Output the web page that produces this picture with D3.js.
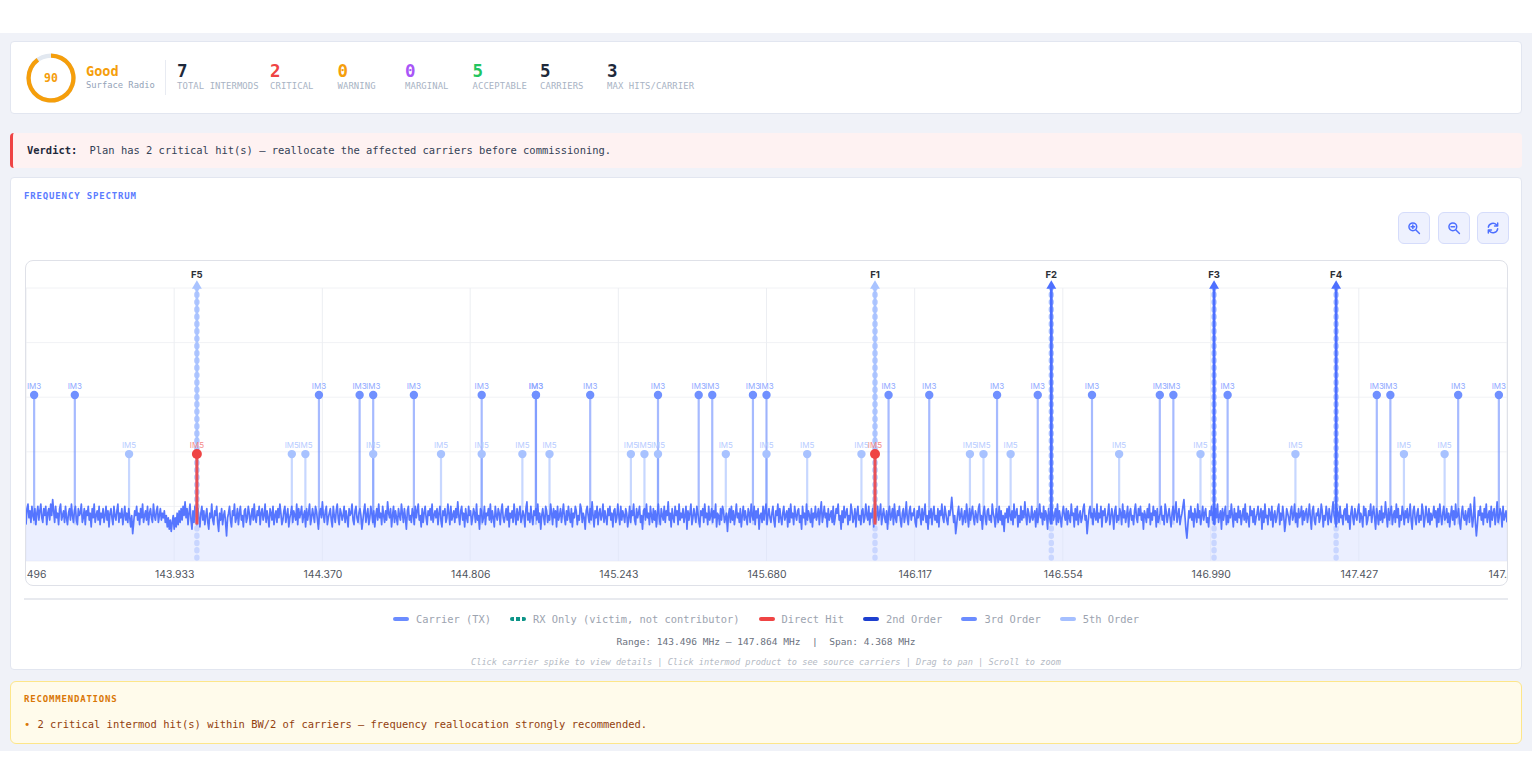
<!DOCTYPE html>
<html>
<head>
<meta charset="utf-8">
<title>Intermodulation Spectrum</title>
<script src="https://cdn.jsdelivr.net/npm/d3@7/dist/d3.min.js"></script>
<style>
  html, body { margin: 0; padding: 0; background: #fff; overflow: hidden; }
  body { width: 1532px; height: 784px; position: relative; font-family: "DejaVu Sans Mono", monospace; }
  .abs { position: absolute; box-sizing: border-box; }
  .bg { left: 0; top: 33px; width: 1532px; height: 718px; background: #f0f2f8; }
  .panel { left: 10px; width: 1512px; background: #fff; border: 1px solid #e2e6f0; border-radius: 4px; }
  .txt { position: absolute; white-space: nowrap; line-height: 1; }
  .btn { top: 212px; width: 32px; height: 32px; background: #eef1fe; border: 1px solid #d5dcfb; border-radius: 6px; }
  .btn svg { position: absolute; left: 8px; top: 8px; fill: none; stroke: #4d6fff; stroke-width: 1.9; stroke-linecap: round; stroke-linejoin: round; }
  #frame { left: 25px; top: 260px; width: 1483px; height: 326px; border: 1.5px solid #dfe1e8; border-radius: 8px; overflow: hidden; background: #fff; }
  #frame svg { position: absolute; left: 0; top: 0; font-family: Inter, sans-serif; }
  #legend { position: absolute; left: 0; width: 1532px; top: 613px; display: flex; justify-content: center; gap: 19px; font-size: 10.4px; color: #9ca3af; line-height: 12px; }
  #legend span.item { display: flex; align-items: center; white-space: nowrap; }
  #legend i { display: block; width: 16px; height: 4px; border-radius: 2px; margin-right: 7px; }
</style>
</head>
<body>
<div class="abs bg"></div>
<div class="abs panel" style="top:41px;height:73px"></div>
<div class="abs" style="left:10px;top:133px;width:1512px;height:35px;background:#fef2f2;border-left:3px solid #ef4444;border-radius:4px"></div>
<div class="abs panel" style="top:177px;height:493px"></div>
<div class="abs" style="left:10px;top:681px;width:1512px;height:63px;background:#fffbeb;border:1px solid #fde68a;border-radius:6px"></div>
<div class="abs" style="left:24px;top:598px;width:1484px;height:2px;background:#e8eaef"></div>
<div class="abs" style="left:165px;top:60px;width:1px;height:35px;background:#e8ebf2"></div>
<div class="abs" id="frame"></div>
<div id="legend"></div>
<script>
// Score summary
const scoreValue = 90;
const scoreGrade = "Good";
const serviceName = "Surface Radio";
const statValues = [7, 2, 0, 0, 5, 5, 3];
const statLabels = ["TOTAL INTERMODS", "CRITICAL", "WARNING", "MARGINAL", "ACCEPTABLE", "CARRIERS", "MAX HITS/CARRIER"];
const statColors = ["#1e293b", "#ef4444", "#f59e0b", "#a855f7", "#22c55e", "#1e293b", "#1e293b"];
const statLefts = [177, 270, 337.5, 405, 472.5, 540, 607];

// Spectrum: carriers in MHz
const carrierNames = ["F5", "F1", "F2", "F3", "F4"];
const carrierFreqs = [144.0, 146.0, 146.52, 147.0, 147.36];
const carrierColors = ["#a9c3ff", "#a9c3ff", "#4d6fff", "#4d6fff", "#4d6fff"];
const carrierLevel = 0;

// Intermod products in MHz
const im3Freqs = [143.52, 143.64, 144.36, 144.48, 144.52, 144.64, 144.84, 145.0, 145.0, 145.16, 145.36, 145.48, 145.52, 145.64, 145.68, 146.04, 146.16, 146.36, 146.48, 146.64, 146.84, 146.88, 147.04, 147.48, 147.52, 147.72, 147.84];
const im5Freqs = [143.8, 144.28, 144.32, 144.52, 144.72, 144.84, 144.96, 145.04, 145.28, 145.32, 145.36, 145.56, 145.68, 145.8, 145.96, 146.28, 146.32, 146.4, 146.72, 146.96, 147.24, 147.56, 147.68];
const hitFreqs = [144.0, 146.0];
const im3Level = -47;
const im5Level = -73;
const stemFloor = -104;

// Axis
const freqMin = 143.496;
const freqMax = 147.864;
const tickFreqs = [143.496, 143.933, 144.370, 144.806, 145.243, 145.680, 146.117, 146.554, 146.990, 147.427, 147.864];
const levelMin = -120;
const levelMax = 0;
const levelTicks = [-120, -96, -72, -48, -24, 0];

// Measured noise floor in dB, left to right across the span
const noiseFloor = [
-104,-97,-95,-101,-98,-103,-96,-100,-102,-97,-104,-99,-96,-102,-98,-95,-101,-103,-97,-100,-96,-104,-99,-97,-102,-95,-100,-93,-98,-103,
-96,-101,-99,-104,-97,-95,-102,-100,-98,-103,-96,-101,-104,-99,-97,-102,-95,-100,-103,-98,-96,-102,-104,-97,-100,-99,-95,-103,-101,-97,
-104,-98,-100,-96,-102,-99,-105,-97,-101,-95,-103,-100,-98,-102,-96,-104,-99,-101,-97,-103,-100,-96,-102,-98,-105,-99,-97,-101,-104,-96,
-100,-102,-98,-95,-103,-99,-101,-97,-104,-100,-96,-102,-99,-103,-97,-101,-105,-100,-108,-103,-98,-100,-96,-102,-99,-104,-97,-101,-95,-103,
-100,-98,-102,-96,-104,-99,-97,-101,-103,-95,-100,-102,-98,-96,-103,-100,-97,-102,-99,-101,-98,-103,-100,-105,-101,-106,-102,-107,-103,-100,
-106,-101,-105,-99,-104,-98,-103,-97,-102,-96,-100,-94,-101,-97,-104,-99,-95,-102,-106,-98,-103,-96,-100,-104,-97,-101,-105,-99,-96,-102,
-98,-104,-100,-97,-103,-106,-99,-101,-95,-102,-104,-98,-100,-96,-103,-107,-99,-102,-97,-104,-100,-98,-103,-109,-101,-99,-96,-102,-105,-98,
-100,-95,-103,-101,-97,-104,-99,-96,-102,-100,-105,-98,-97,-103,-101,-96,-99,-104,-100,-97,-102,-95,-101,-103,-98,-100,-96,-104,-99,-97,
-102,-100,-95,-103,-98,-101,-105,-97,-99,-102,-96,-104,-100,-98,-103,-97,-101,-95,-99,-104,-102,-98,-96,-103,-100,-97,-105,-101,-99,-96,
-103,-98,-100,-102,-95,-104,-97,-101,-99,-96,-103,-100,-98,-105,-97,-102,-99,-95,-104,-101,-97,-100,-103,-96,-98,-102,-106,-99,-97,-101,
-94,-100,-103,-98,-96,-104,-101,-99,-97,-102,-105,-96,-100,-103,-98,-95,-101,-104,-97,-99,-102,-100,-96,-103,-98,-101,-105,-97,-100,-99,
-95,-102,-104,-98,-96,-101,-103,-99,-97,-100,-106,-102,-98,-95,-103,-100,-97,-104,-101,-96,-99,-103,-98,-105,-100,-97,-102,-95,-101,-99,
-104,-96,-100,-103,-98,-102,-94,-99,-101,-97,-105,-100,-96,-103,-98,-101,-104,-97,-100,-102,-95,-99,-103,-97,-101,-106,-98,-96,-102,-100,
-103,-97,-99,-104,-96,-101,-98,-95,-102,-100,-105,-97,-103,-99,-96,-101,-104,-98,-100,-97,-102,-95,-103,-100,-98,-101,-97,-104,-99,-96,
-102,-105,-98,-100,-97,-103,-101,-95,-99,-104,-96,-102,-100,-98,-103,-97,-101,-94,-100,-104,-98,-96,-102,-99,-105,-97,-101,-103,-96,-100,
-98,-104,-101,-97,-99,-103,-95,-102,-100,-106,-97,-98,-103,-101,-96,-104,-99,-100,-97,-102,-95,-103,-98,-101,-105,-96,-100,-102,-97,-99,
-104,-98,-95,-101,-103,-100,-97,-102,-96,-105,-99,-101,-98,-103,-95,-100,-104,-97,-102,-99,-96,-103,-101,-98,-100,-105,-97,-94,-102,-99,
-103,-96,-101,-104,-98,-100,-97,-102,-95,-103,-99,-106,-100,-97,-101,-104,-96,-98,-103,-100,-102,-95,-99,-104,-97,-101,-98,-105,-96,-102,
-100,-97,-103,-99,-95,-101,-104,-98,-102,-96,-100,-103,-97,-105,-99,-101,-96,-98,-104,-100,-102,-95,-97,-103,-99,-101,-106,-98,-96,-100,
-103,-97,-102,-94,-100,-105,-98,-101,-96,-104,-99,-97,-102,-100,-95,-103,-98,-101,-104,-97,-100,-96,-102,-99,-105,-98,-97,-103,-101,-95,
-100,-104,-96,-102,-98,-100,-103,-97,-99,-105,-101,-96,-103,-98,-100,-95,-102,-104,-97,-101,-99,-96,-103,-100,-106,-98,-97,-102,-95,-101,
-99,-104,-96,-100,-103,-97,-102,-98,-105,-99,-95,-101,-104,-97,-100,-102,-96,-103,-98,-100,-94,-102,-99,-105,-97,-101,-103,-96,-100,-98,
-104,-95,-102,-99,-101,-97,-103,-100,-96,-106,-98,-102,-99,-95,-104,-101,-97,-100,-103,-96,-99,-102,-105,-98,-100,-97,-103,-95,-101,-99,
-104,-96,-102,-100,-97,-103,-98,-101,-95,-105,-99,-100,-104,-97,-102,-96,-98,-103,-101,-99,-107,-100,-97,-103,-96,-102,-98,-104,-100,-95,
-101,-99,-103,-97,-105,-100,-96,-102,-98,-101,-104,-97,-99,-103,-95,-100,-102,-96,-104,-98,-101,-97,-106,-100,-99,-103,-96,-102,-98,-95,
-104,-100,-97,-101,-103,-99,-96,-102,-105,-98,-100,-95,-103,-97,-101,-104,-99,-96,-102,-100,-98,-105,-97,-103,-95,-101,-99,-104,-96,-100,
-102,-98,-97,-103,-100,-106,-96,-101,-99,-104,-95,-102,-98,-100,-103,-97,-105,-99,-101,-96,-102,-100,-97,-104,-98,-94,-103,-100,-96,-101,
-99,-105,-97,-102,-100,-98,-103,-96,-104,-101,-97,-99,-95,-102,-100,-106,-98,-103,-96,-101,-99,-97,-104,-100,-102,-95,-98,-103,-101,-97,
-105,-99,-96,-102,-100,-104,-98,-97,-103,-101,-95,-100,-102,-96,-104,-99,-101,-97,-105,-98,-103,-100,-96,-102,-99,-95,-104,-100,-97,-101,
-103,-98,-106,-99,-96,-102,-100,-97,-104,-95,-101,-103,-98,-100,-96,-102,-105,-99,-97,-103,-100,-94,-101,-104,-98,-96,-102,-99,-100,-97,
-103,-105,-98,-101,-96,-100,-104,-97,-102,-99,-95,-103,-100,-106,-98,-101,-97,-104,-99,-96,-102,-100,-103,-97,-105,-98,-100,-95,-101,-103,
-96,-99,-102,-104,-98,-100,-97,-92,-98,-103,-100,-108,-104,-99,-96,-102,-100,-97,-104,-101,-98,-103,-95,-100,-105,-97,-102,-99,-96,-101,
-104,-98,-100,-103,-97,-95,-102,-100,-106,-99,-96,-101,-104,-98,-97,-102,-100,-103,-95,-99,-101,-105,-97,-100,-103,-96,-102,-98,-104,-100,
-107,-99,-101,-97,-103,-96,-100,-102,-98,-104,-95,-101,-99,-97,-105,-100,-103,-96,-102,-98,-101,-94,-100,-104,-97,-99,-103,-101,-96,-102,
-100,-98,-105,-97,-103,-100,-95,-101,-99,-104,-96,-102,-98,-100,-106,-97,-101,-103,-96,-99,-102,-100,-97,-104,-95,-103,-98,-101,-105,-99,
-96,-100,-102,-97,-104,-98,-101,-103,-95,-100,-99,-105,-97,-102,-96,-104,-100,-98,-103,-101,-97,-95,-102,-100,-108,-103,-98,-96,-101,-99,
-104,-97,-100,-102,-95,-103,-99,-101,-96,-105,-98,-100,-97,-103,-102,-99,-95,-104,-101,-97,-100,-106,-98,-96,-103,-100,-102,-97,-99,-104,
-95,-101,-98,-103,-100,-96,-105,-99,-97,-102,-100,-104,-98,-95,-101,-103,-97,-100,-96,-102,-99,-106,-98,-100,-103,-97,-101,-95,-104,-99,
-102,-96,-100,-98,-105,-97,-103,-101,-99,-96,-102,-100,-104,-95,-98,-103,-100,-97,-101,-105,-99,-96,-102,-98,-94,-103,-100,-97,-104,-101,
-99,-96,-93,-100,-106,-110,-104,-98,-101,-96,-102,-99,-105,-97,-100,-103,-95,-101,-98,-104,-100,-96,-102,-99,-97,-103,-101,-105,-98,-100,
-96,-102,-99,-104,-97,-101,-95,-103,-100,-98,-106,-97,-102,-99,-96,-104,-100,-103,-98,-101,-95,-100,-105,-97,-102,-99,-103,-96,-101,-98,
-104,-100,-97,-102,-95,-103,-99,-101,-105,-96,-100,-98,-103,-97,-104,-101,-99,-96,-102,-100,-97,-106,-98,-103,-95,-101,-100,-104,-97,-99,
-102,-96,-105,-100,-98,-103,-101,-97,-95,-104,-99,-102,-96,-100,-107,-103,-97,-99,-101,-104,-98,-96,-102,-100,-95,-103,-99,-105,-97,-101,
-100,-96,-104,-98,-102,-99,-97,-103,-100,-95,-101,-106,-98,-96,-102,-104,-99,-100,-97,-103,-101,-95,-98,-105,-100,-102,-96,-99,-104,-97,
-101,-103,-98,-94,-100,-102,-105,-97,-99,-103,-96,-101,-100,-104,-98,-97,-102,-95,-103,-100,-106,-99,-96,-101,-104,-97,-100,-102,-98,-95,
-103,-99,-101,-105,-96,-100,-97,-104,-102,-98,-100,-95,-103,-99,-96,-101,-106,-97,-100,-104,-98,-102,-96,-103,-99,-101,-94,-100,-105,-97,
-102,-99,-96,-104,-100,-98,-103,-95,-101,-97,-105,-100,-102,-96,-99,-104,-98,-101,-97,-103,-100,-95,-102,-106,-98,-96,-101,-104,-99,-97,
-103,-100,-102,-95,-98,-105,-101,-96,-100,-103,-97,-104,-99,-102,-100,-96,-101,-98,-105,-97,-103,-95,-100,-104,-99,-96,-102,-101,-97,-103,
-99,-105,-100,-96,-102,-98,-104,-95,-101,-100,-97,-103,-106,-99,-96,-101,-102,-98,-104,-100,-97,-103,-95,-99,-105,-101,-92,-103,-109,-104,
-98,-100,-96,-102,-99,-104,-97,-101,-95,-103,-100,-98,-105,-96,-102,-99,-97,-104,-100,-94,-103,-101,-97,-99,-105,-96,-102,-100,-98,-103
];

// Legend and caption text
const legendLabels = ["Carrier (TX)", "RX Only (victim, not contributor)", "Direct Hit", "2nd Order", "3rd Order", "5th Order"];
const legendColors = ["#6b8cff", "#0d9488", "#ef4444", "#1d3fcf", "#6b8cff", "#a5bfff"];
const verdictText = "Plan has 2 critical hit(s) \u2014 reallocate the affected carriers before commissioning.";
const recommendationText = "2 critical intermod hit(s) within BW/2 of carriers \u2014 frequency reallocation strongly recommended.";
const rangeText = "Range: 143.496 MHz \u2013 147.864 MHz \u00a0|\u00a0 Span: 4.368 MHz";
const hintText = "Click carrier spike to view details | Click intermod product to see source carriers | Drag to pan | Scroll to zoom";

const body = d3.select("body");
function text(x, y, str, size, color, opts = {}) {
  const el = body.append("div").attr("class", "txt").text(str)
    .style("left", x + "px").style("top", (y - size / 2) + "px")
    .style("font-size", size + "px").style("color", color);
  Object.entries(opts).forEach(([k, v]) => el.style(k, v));
  return el;
}

// Score ring
const ring = body.append("svg").attr("class", "abs").attr("width", 60).attr("height", 60)
  .style("left", "21px").style("top", "48px")
  .append("g").attr("transform", "translate(30,30)");
const ringArc = d3.arc().innerRadius(20.3).outerRadius(24.6).startAngle(0);
ring.append("path").attr("d", ringArc({ endAngle: 2 * Math.PI })).attr("fill", "#e2e8f0");
ring.append("path").attr("d", ringArc({ endAngle: 2 * Math.PI * scoreValue / 100 })).attr("fill", "#f59e0b");
ring.append("text").attr("text-anchor", "middle").attr("dy", "0.38em")
  .attr("font-size", 11.5).attr("font-weight", 600).attr("font-family", "DejaVu Sans Mono, monospace")
  .attr("fill", "#f59e0b").text(scoreValue);

text(86, 72, scoreGrade, 13.5, "#f59e0b", { "font-weight": 700 });
text(86, 85, serviceName, 8.8, "#94a3b8");

statValues.forEach((v, i) => {
  text(statLefts[i], 72, v, 17.5, statColors[i], { "font-weight": 700 });
  text(statLefts[i], 86, statLabels[i], 8.9, "#a8b3c4", { "letter-spacing": "0.1px" });
});

text(27, 150, "Verdict:", 10.45, "#1e293b", { "font-weight": 700 });
text(89.5, 150, verdictText, 10.45, "#334155");
text(24, 196, "FREQUENCY SPECTRUM", 9, "#5b7cff", { "font-weight": 700, "letter-spacing": "0.85px" });

// Toolbar buttons
const icons = [
  '<circle cx="7.5" cy="7.5" r="5"/><path d="M11.2 11.2L16 16M7.5 5.2v4.6M5.2 7.5h4.6"/>',
  '<circle cx="7.5" cy="7.5" r="5"/><path d="M11.2 11.2L16 16M5.2 7.5h4.6"/>',
  '<path d="M3 8a6 6 0 0 1 10.5-3L15 6.5M15 2.5v4h-4M15 10a6 6 0 0 1-10.5 3L3 11.5M3 15.5v-4h4"/>'
];
[1398, 1438, 1477].forEach((x, i) => {
  body.append("div").attr("class", "abs btn").style("left", x + "px")
    .html('<svg width="14" height="14" viewBox="0 0 18 18">' + icons[i] + "</svg>");
});

// Spectrum plot
const W = 1481, H = 324;
const svg = d3.select("#frame").append("svg").attr("width", W).attr("height", H);
const x = d3.scaleLinear().domain([freqMin, freqMax]).range([0, W]);
const y = d3.scaleLinear().domain([levelMin, levelMax]).range([300, 27]);
const indexToFreq = d3.scaleLinear().domain([0, noiseFloor.length - 1]).range([freqMin, freqMax]);

svg.append("g").selectAll("line").data(levelTicks).join("line")
  .attr("x1", 0).attr("x2", W).attr("y1", d => y(d)).attr("y2", d => y(d))
  .attr("stroke", "#f1f2f5");
svg.append("g").selectAll("line").data(tickFreqs).join("line")
  .attr("x1", d => x(d)).attr("x2", d => x(d)).attr("y1", y(levelMax)).attr("y2", y(levelMin))
  .attr("stroke", "#eceef2");

// Carrier bead underlay, full height
svg.append("g").selectAll("line").data(carrierFreqs).join("line")
  .attr("x1", d => x(d)).attr("x2", d => x(d))
  .attr("y1", y(carrierLevel) - 1).attr("y2", y(levelMin) - 2)
  .attr("stroke", "#a0baff").attr("stroke-width", 5.4).attr("stroke-opacity", 0.8)
  .attr("stroke-dasharray", "1 6.3").attr("stroke-linecap", "round");

// Intermod stems
svg.append("g").selectAll("line").data(im5Freqs).join("line")
  .attr("x1", d => x(d)).attr("x2", d => x(d)).attr("y1", y(im5Level)).attr("y2", y(stemFloor))
  .attr("stroke", "#a5bfff").attr("stroke-width", 2.2).attr("stroke-opacity", 0.62);
svg.append("g").selectAll("line").data(im3Freqs).join("line")
  .attr("x1", d => x(d)).attr("x2", d => x(d)).attr("y1", y(im3Level)).attr("y2", y(stemFloor))
  .attr("stroke", "#6b8cff").attr("stroke-width", 2.2).attr("stroke-opacity", 0.6);

// Noise floor
const area = d3.area().x((d, i) => x(indexToFreq(i))).y0(y(levelMin)).y1(d => y(d));
const line = d3.line().x((d, i) => x(indexToFreq(i))).y(d => y(d));
svg.append("path").datum(noiseFloor).attr("d", area).attr("fill", "#dbe2ff").attr("fill-opacity", 0.55);
svg.append("path").datum(noiseFloor).attr("d", line).attr("fill", "none")
  .attr("stroke", "#4d6fff").attr("stroke-width", 1.7).attr("stroke-opacity", 0.95)
  .attr("stroke-linejoin", "round");

// Carrier spikes
const carriers = svg.append("g").selectAll("g").data(carrierFreqs).join("g");
carriers.append("line").attr("x1", d => x(d)).attr("x2", d => x(d))
  .attr("y1", y(carrierLevel)).attr("y2", y(stemFloor))
  .attr("stroke", (d, i) => carrierColors[i]).attr("stroke-width", 2.8);
carriers.append("path").attr("d", d3.symbol(d3.symbolTriangle, 42))
  .attr("transform", d => `translate(${x(d)},${y(carrierLevel) - 2})`)
  .attr("fill", (d, i) => carrierColors[i]);
carriers.append("text").attr("x", d => x(d)).attr("y", y(carrierLevel) - 13.5)
  .attr("text-anchor", "middle").attr("dy", "0.36em")
  .attr("font-size", 9.5).attr("font-weight", 700).attr("fill", "#2b2f36")
  .text((d, i) => carrierNames[i]);

// Intermod heads and labels
function heads(freqs, level, fill, labelFill, label, r) {
  const g = svg.append("g");
  g.selectAll("circle").data(freqs).join("circle")
    .attr("cx", d => x(d)).attr("cy", y(level)).attr("r", r).attr("fill", fill);
  g.selectAll("text").data(freqs).join("text")
    .attr("x", d => x(d)).attr("y", y(level) - 8.5).attr("text-anchor", "middle").attr("dy", "0.36em")
    .attr("font-size", 8).attr("fill", labelFill).text(label);
}
heads(im5Freqs, im5Level, "#a8c2ff", "#b8ccff", "IM5", 4.2);
heads(im3Freqs, im3Level, "#7090ff", "#8fa8ff", "IM3", 4.2);

// Direct hits drawn above everything else
svg.append("g").selectAll("line").data(hitFreqs).join("line")
  .attr("x1", d => x(d)).attr("x2", d => x(d)).attr("y1", y(im5Level)).attr("y2", y(stemFloor))
  .attr("stroke", "#ef4444").attr("stroke-width", 3).attr("stroke-opacity", 0.9);
heads(hitFreqs, im5Level, "#ef4444", "#f58a8a", "IM5", 5);

// Frequency axis
const axis = svg.append("g").attr("transform", `translate(0,${y(levelMin)})`)
  .call(d3.axisBottom(x).tickValues(tickFreqs).tickFormat(d3.format(".3f")).tickSize(0).tickPadding(9.5));
axis.select(".domain").remove();
axis.selectAll("text").attr("font-size", 10.4).attr("fill", "#50555e").attr("font-family", "Inter, sans-serif");

// Legend
const items = d3.select("#legend").selectAll("span").data(legendLabels).join("span").attr("class", "item");
items.append("i").each(function (d, i) {
  const s = d3.select(this);
  if (i === 1) {
    s.style("background", `repeating-linear-gradient(90deg, ${legendColors[i]} 0 4px, transparent 4px 6px)`);
  } else {
    s.style("background", legendColors[i]);
  }
});
items.append("span").text(d => d);

text(0, 642, rangeText, 9.55, "#6b7280", { width: "1532px", "text-align": "center" });
text(0, 662, hintText, 8.6, "#b4bac4", { width: "1532px", "text-align": "center", "font-style": "italic" });

text(24, 699, "RECOMMENDATIONS", 9, "#d97706", { "font-weight": 700, "letter-spacing": "0.82px" });
text(24, 724, "\u2022", 10.45, "#d97706");
text(37.5, 724, recommendationText, 10.45, "#92400e");
</script>
</body>
</html>
